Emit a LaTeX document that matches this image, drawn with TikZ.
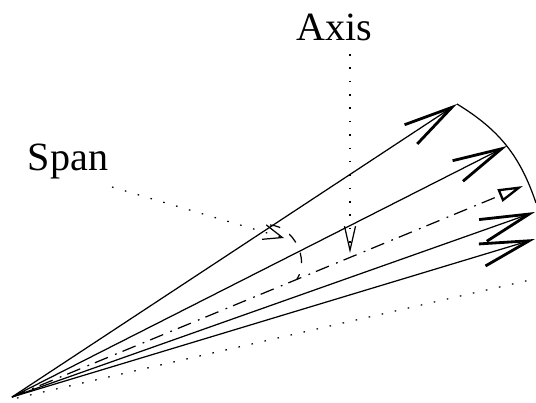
\documentclass[tikz,border=0pt]{standalone}
\usepackage{fontspec}
\setmainfont{Liberation Serif}
\usetikzlibrary{arrows.meta}

\begin{document}
\begin{tikzpicture}[
    x=0.01cm, y=-0.01cm,
    every node/.style={align=center, inner sep=0pt},
    label_text/.style={font=\fontsize{11.4pt}{13pt}\selectfont},
    vector/.style={line width=0.35pt, -{Straight Barb[length=0.49cm, width=0.23cm, line width=0.8pt]}},
    axis_line/.style={line width=0.35pt, dash pattern=on 4pt off 2.2pt on 0.5pt off 1.8pt, -{Triangle[open, length=0.25cm, width=0.13cm, line width=0.65pt, fill=white]}},
    leader_span/.style={line width=0.35pt, dash pattern=on 0.45pt off 3.35pt, -{Straight Barb[length=0.19cm, width=0.15cm, line width=0.35pt]}},
    leader_axis/.style={line width=0.35pt, dash pattern=on 0.45pt off 3.35pt, -{Straight Barb[length=0.24cm, width=0.11cm, line width=0.35pt]}},
    edge_dotted/.style={line width=0.35pt, dash pattern=on 0.45pt off 3.35pt}
]
\useasboundingbox (0,0) rectangle (536,403);

% Cone apex and vector tips
\coordinate (apex) at (12,397);
\coordinate (apex_dotted) at (17,398);
\coordinate (tip_top) at (457,104);
\coordinate (tip_second) at (507,146);
\coordinate (tip_axis) at (523,186);
\coordinate (tip_fourth) at (535,212);
\coordinate (tip_fifth) at (535,239);
\coordinate (arc_end) at (536,203);
\coordinate (dotted_end) at (530,280);

% Labels
\node[label_text] (axis_label) at (334,27) {Axis};
\node[label_text] (span_label) at (68,161) {Span};
\coordinate (axis_from) at (350,54);
\coordinate (axis_to) at (350,253);
\coordinate (span_from) at (112,187);
\coordinate (span_to) at (284,238);
\coordinate (span_arc_start) at (270,225);
\coordinate (span_arc_end) at (297,279);

% Vectors
\draw[vector] (apex) -- (tip_top);
\draw[vector] (apex) -- (tip_second);
\draw[vector] (apex) -- (tip_fourth);
\draw[vector] (apex) -- (tip_fifth);
\draw[axis_line] (apex) -- (tip_axis);
\draw[edge_dotted] (apex_dotted) -- (dotted_end);

% Outer rim and span arc
\draw[line width=0.35pt] (tip_top) to[bend left=20] (arc_end);
\draw[line width=0.35pt, dash pattern=on 3pt off 3.2pt] (span_arc_start) to[bend left=60] (span_arc_end);

% Leaders
\draw[leader_axis] (axis_from) -- (axis_to);
\draw[leader_span] (span_from) -- (span_to);

\end{tikzpicture}
\end{document}
